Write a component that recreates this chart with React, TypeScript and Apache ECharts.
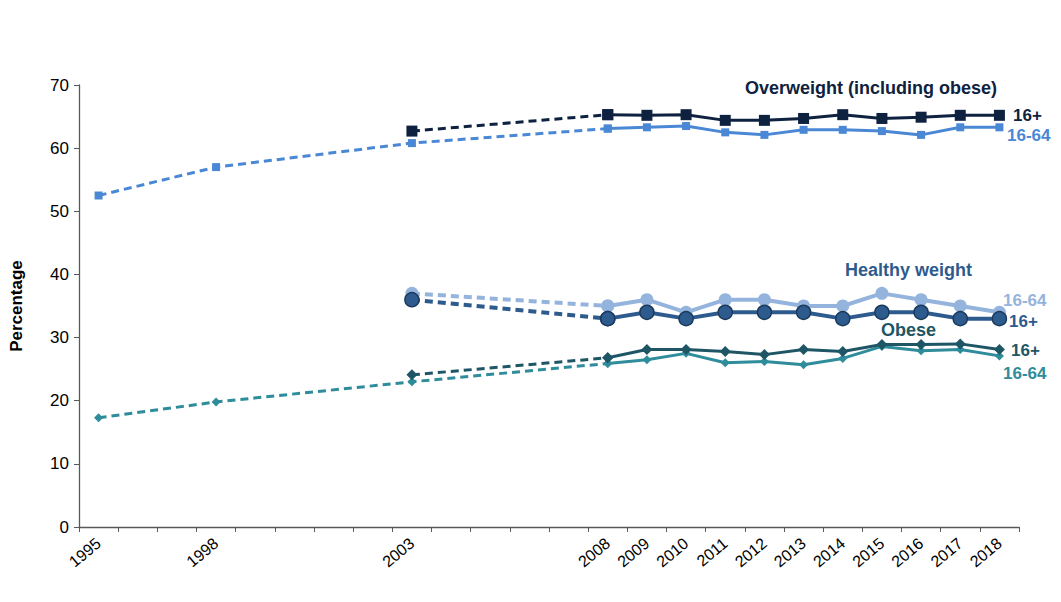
import React, { useEffect, useRef } from "react";
import * as echarts from "echarts";

const allYears = ["1995","1996","1997","1998","1999","2000","2001","2002","2003","2004","2005","2006","2007","2008","2009","2010","2011","2012","2013","2014","2015","2016","2017","2018"];
const surveyYears = ["1995","1998","2003","2008","2009","2010","2011","2012","2013","2014","2015","2016","2017","2018"];
const yTicks = [0, 10, 20, 30, 40, 50, 60, 70];

const overweight16plus = [null, null, 62.7, 65.3, 65.2, 65.3, 64.4, 64.4, 64.7, 65.3, 64.7, 64.9, 65.2, 65.2];
const overweight1664 = [52.5, 57.0, 60.8, 63.1, 63.3, 63.5, 62.5, 62.1, 62.9, 62.9, 62.7, 62.1, 63.3, 63.3];
const healthy1664 = [null, null, 37.0, 35.0, 36.0, 34.0, 36.0, 36.0, 35.0, 35.0, 37.0, 36.0, 35.0, 34.0];
const healthy16plus = [null, null, 36.0, 33.0, 34.0, 33.0, 34.0, 34.0, 34.0, 33.0, 34.0, 34.0, 33.0, 33.0];
const obese16plus = [null, null, 24.1, 26.8, 28.1, 28.1, 27.8, 27.3, 28.1, 27.8, 28.9, 28.9, 29.0, 28.1];
const obese1664 = [17.3, 19.8, 23.0, 25.9, 26.5, 27.5, 26.0, 26.2, 25.7, 26.7, 28.6, 27.9, 28.1, 27.1];

const FONT = "Liberation Sans, Arial, sans-serif";

type Style = {
  name: string;
  values: (number | null)[];
  color: string;
  symbol: string;
  symbolSize: number;
  width: number;
  border?: string;
  z: number;
};

const lines: Style[] = [
  { name: "Overweight 16-64", values: overweight1664, color: "#4A88D6", symbol: "rect", symbolSize: 8, width: 3, z: 2 },
  { name: "Overweight 16+", values: overweight16plus, color: "#0E2240", symbol: "rect", symbolSize: 11, width: 3, z: 3 },
  { name: "Healthy 16-64", values: healthy1664, color: "#95B4DD", symbol: "circle", symbolSize: 13, width: 4, z: 2 },
  { name: "Healthy 16+", values: healthy16plus, color: "#2E5B8E", symbol: "circle", symbolSize: 14, width: 4, border: "#1B3A5C", z: 3 },
  { name: "Obese 16-64", values: obese1664, color: "#2E8C9B", symbol: "diamond", symbolSize: 9, width: 3, z: 2 },
  { name: "Obese 16+", values: obese16plus, color: "#1E5665", symbol: "diamond", symbolSize: 11, width: 3, z: 3 },
];

function buildSeries() {
  const out: any[] = [];
  lines.forEach((l) => {
    const pairs = surveyYears.map((y, i) => [y, l.values[i]]).filter((p) => p[1] !== null);
    const dashed = pairs.filter((p) => Number(p[0]) <= 2008);
    const solid = pairs.filter((p) => Number(p[0]) >= 2008);
    const itemStyle = { color: l.color, borderColor: l.border || l.color, borderWidth: l.border ? 1.5 : 0 };
    out.push({
      type: "line",
      name: l.name + " dashed",
      data: dashed,
      symbol: l.symbol,
      symbolSize: l.symbolSize,
      lineStyle: { color: l.color, width: l.width, type: [8, 5] },
      itemStyle,
      z: l.z,
      silent: true,
    });
    out.push({
      type: "line",
      name: l.name,
      data: solid,
      symbol: l.symbol,
      symbolSize: l.symbolSize,
      lineStyle: { color: l.color, width: l.width },
      itemStyle,
      z: l.z + 1,
      silent: true,
    });
  });
  return out;
}

function txt(text: string, x: number, y: number, color: string, size: number, align = "left") {
  return {
    type: "text",
    x,
    y,
    style: {
      text,
      fill: color,
      font: `bold ${size}px ${FONT}`,
      textAlign: align,
      textVerticalAlign: "middle",
    },
  };
}

export default function App() {
  const ref = useRef<HTMLDivElement>(null);
  useEffect(() => {
    if (!ref.current) return;
    const chart = echarts.init(ref.current, null, { renderer: "svg" });
    chart.setOption({
      animation: false,
      backgroundColor: "#ffffff",
      grid: { left: 78.5, right: 42, top: 85, bottom: 75, containLabel: false },
      xAxis: {
        type: "category",
        data: allYears,
        boundaryGap: true,
        axisLine: { lineStyle: { color: "#595959", width: 1.3 } },
        axisTick: { show: true, length: 5, interval: 0, lineStyle: { color: "#595959" } },
        axisLabel: {
          interval: 0,
          rotate: 40,
          margin: 14,
          color: "#000",
          fontSize: 16,
          fontFamily: FONT,
          formatter: (v: string) => (surveyYears.indexOf(v) >= 0 ? v : ""),
        },
        splitLine: { show: false },
      },
      yAxis: {
        type: "value",
        min: yTicks[0],
        max: yTicks[yTicks.length - 1],
        interval: 10,
        name: "Percentage",
        nameLocation: "middle",
        nameGap: 54,
        nameTextStyle: { fontWeight: "bold", fontSize: 17, color: "#000", fontFamily: FONT },
        axisLine: { show: true, lineStyle: { color: "#595959", width: 1.3 } },
        axisTick: { show: true, length: 5, lineStyle: { color: "#595959" } },
        axisLabel: { color: "#000", fontSize: 17, fontFamily: FONT, margin: 10 },
        splitLine: { show: false },
      },
      series: buildSeries(),
      graphic: [
        txt("Overweight (including obese)", 745, 88, "#0E2240", 18),
        txt("16+", 1013, 115, "#0E2240", 17),
        txt("16-64", 1007, 135, "#4A88D6", 17),
        txt("Healthy weight", 845, 270, "#2E5B8E", 18),
        txt("16-64", 1003, 300, "#95B4DD", 17),
        txt("16+", 1009, 321, "#2E5B8E", 17),
        txt("Obese", 881, 330, "#1E5665", 18),
        txt("16+", 1011, 350, "#1E5665", 17),
        txt("16-64", 1003, 373, "#2E8C9B", 17),
      ],
    });
    return () => chart.dispose();
  }, []);
  return <div ref={ref} style={{ position: "absolute", left: 0, top: 0, width: 1061, height: 602 }} />;
}
